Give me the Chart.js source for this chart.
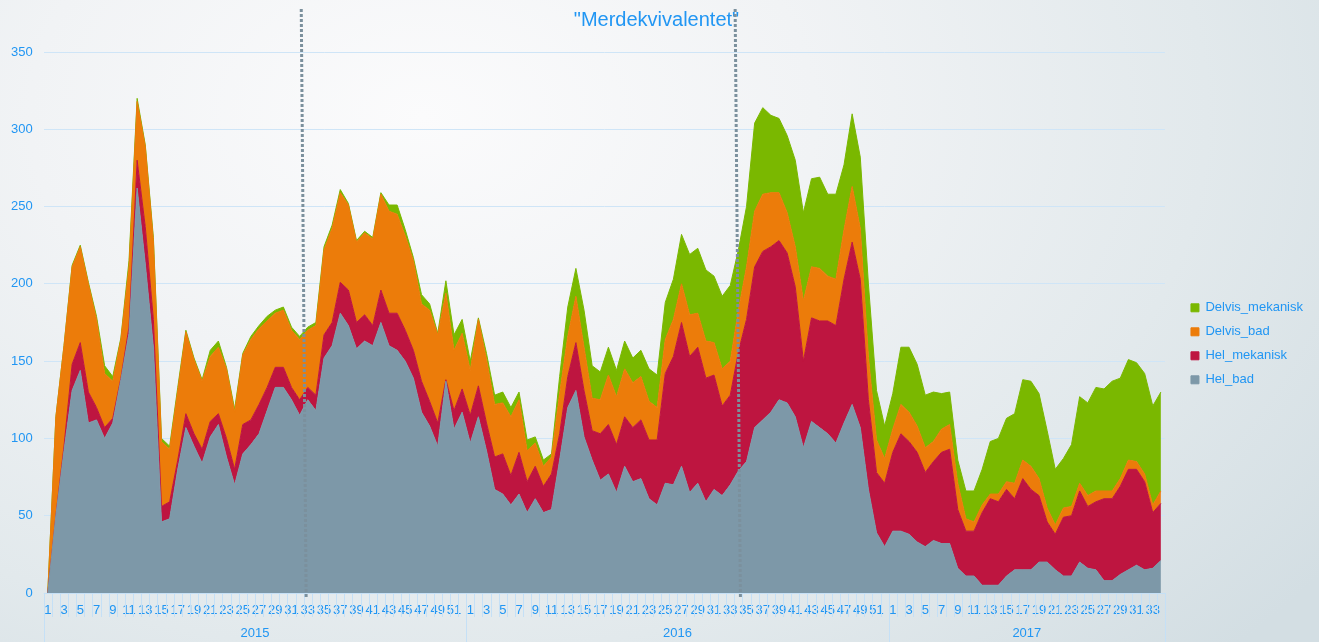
<!DOCTYPE html>
<html><head><meta charset="utf-8">
<script src="https://cdn.jsdelivr.net/npm/chart.js@4.4.0/dist/chart.umd.min.js"></script>
<style>
html,body{margin:0;padding:0;width:1319px;height:642px;overflow:hidden;}
body{background:radial-gradient(ellipse 85% 120% at 32% 18%, #fbfbfc 0%, #f1f3f5 35%, #e2e9ec 70%, #d3dee3 100%);}
#wrap{position:relative;width:1319px;height:642px;}
</style></head><body><div id="wrap"><canvas id="c" width="1319" height="642"></canvas></div>
<script>
const years = ['2015', '2016', '2017'];
const weeksPerYear = [52, 52, 34];
const seriesNames = ['Hel_bad', 'Hel_mekanisk', 'Delvis_bad', 'Delvis_mekanisk'];

const helBad = [
  0, 50, 92, 131, 144, 110, 112, 100, 110, 138,
  168, 262, 213, 159, 46, 48, 80, 107, 95, 84,
  101, 109, 88, 70, 90, 96, 103, 118, 133, 133,
  125, 115, 125, 118, 152, 160, 181, 173, 158, 163,
  160, 175, 160, 157, 150, 139, 117, 108, 95, 137,
  106, 117,
  97, 114, 92, 67, 64, 57, 64, 52, 61, 52,
  54, 86, 120, 131, 101, 86, 73, 77, 65, 82,
  72, 74, 61, 57, 71, 70, 82, 65, 71, 59,
  67, 63, 70, 79, 85, 107, 112, 117, 125, 123,
  114, 94, 111, 107, 103, 97, 110, 122, 107, 67,
  39, 30,
  40, 40, 38, 33, 30, 34, 32, 32, 16, 11,
  11, 5, 5, 5, 11, 15, 15, 15, 20, 20,
  15, 11, 11, 20, 16, 15, 8, 8, 12, 15,
  18, 15, 16, 21
];
const helMekanisk = [
  0, 0, 3, 17, 18, 20, 8, 7, 3, 1,
  4, 18, 24, 18, 10, 11, 6, 9, 8, 9,
  10, 7, 12, 10, 19, 16, 19, 15, 13, 13,
  8, 10, 8, 10, 15, 15, 20, 23, 17, 17,
  13, 21, 21, 24, 20, 18, 20, 16, 15, 1,
  12, 15,
  18, 20, 18, 21, 26, 19, 27, 20, 21, 17,
  23, 17, 20, 31, 30, 19, 30, 32, 31, 32,
  35, 38, 38, 42, 71, 83, 93, 88, 88, 80,
  74, 58, 58, 77, 92, 104, 109, 107, 103, 97,
  84, 56, 67, 69, 73, 76, 93, 105, 96, 58,
  39, 41,
  51, 63, 60, 58, 48, 51, 59, 61, 38, 29,
  29, 47, 56, 54, 56, 46, 59, 52, 43, 26,
  23, 38, 39, 46, 40, 44, 53, 53, 57, 65,
  62, 57, 36, 37
];
const delvisBad = [
  0, 64, 65, 63, 62, 70, 57, 35, 24, 25,
  39, 38, 52, 51, 42, 34, 45, 53, 48, 44,
  42, 43, 45, 37, 45, 52, 49, 43, 35, 37,
  37, 39, 37, 45, 55, 61, 58, 55, 52, 53,
  56, 62, 66, 64, 61, 58, 50, 59, 57, 56,
  39, 36,
  29, 43, 41, 34, 33, 38, 34, 20, 15, 13,
  11, 26, 26, 30, 28, 21, 22, 32, 31, 31,
  29, 28, 25, 21, 22, 24, 25, 27, 22, 24,
  21, 24, 22, 27, 34, 36, 37, 35, 31, 26,
  26, 39, 33, 34, 29, 30, 32, 36, 33, 28,
  21, 16,
  15, 19, 19, 17, 16, 13, 15, 16, 17, 8,
  6, 5, 3, 5, 5, 10, 12, 15, 11, 9,
  6, 6, 6, 5, 7, 7, 5, 5, 5, 6,
  5, 5, 5, 8
];
const delvisMekanisk = [
  0, 0, 0, 1, 1, 1, 2, 5, 3, 1,
  4, 2, 1, 2, 2, 2, 2, 1, 1, 1,
  4, 4, 1, 2, 1, 2, 2, 3, 2, 2,
  2, 2, 2, 2, 2, 2, 2, 1, 1, 1,
  1, 1, 4, 6, 4, 2, 6, 4, 1, 8,
  10, 9,
  6, 1, 4, 6, 7, 6, 5, 7, 4, 4,
  2, 11, 19, 18, 24, 21, 18, 18, 17, 18,
  16, 17, 21, 21, 24, 26, 32, 39, 42, 46,
  43, 47, 49, 39, 39, 57, 56, 50, 48, 50,
  56, 57, 57, 59, 53, 55, 42, 47, 46, 47,
  32, 21,
  23, 37, 42, 40, 34, 32, 23, 21, 15, 18,
  20, 23, 34, 36, 41, 45, 52, 55, 55, 50,
  36, 32, 40, 56, 60, 67, 66, 71, 65, 65,
  64, 65, 64, 64
];

// week number labels for each year
const labels = [];
weeksPerYear.forEach(n => { for (let w = 1; w <= n; w++) labels.push(String(w)); });

const BLUE = '#2196f3';
const FONT = '"Liberation Sans", Arial, sans-serif';
const colors = ['#7d98a8', '#be1540', '#ec7c0a', '#7ab800'];
const seriesData = [helBad, helMekanisk, delvisBad, delvisMekanisk];

const decor = {
  id: 'decor',
  afterDatasetsDraw(chart) {
    const ctx = chart.ctx;
    const { left, right, top, bottom } = chart.chartArea;
    const n = labels.length;
    const step = (right - left) / n;
    ctx.save();
    ctx.strokeStyle = '#c5e0f6';
    ctx.lineWidth = 1;
    ctx.beginPath(); ctx.moveTo(left, bottom + 0.5); ctx.lineTo(right, bottom + 0.5); ctx.stroke();
    for (let i = 0; i <= n; i++) {
      const xx = Math.round(left + i * step) + 0.5;
      ctx.beginPath(); ctx.moveTo(xx, bottom); ctx.lineTo(xx, bottom + 24); ctx.stroke();
    }
    const bounds = [0]; let c = 0;
    weeksPerYear.forEach(w => { c += w; bounds.push(c); });
    bounds.forEach(b => {
      const xx = Math.round(left + b * step) + 0.5;
      ctx.beginPath(); ctx.moveTo(xx, bottom); ctx.lineTo(xx, chart.height); ctx.stroke();
    });
    ctx.fillStyle = BLUE;
    ctx.font = '13px ' + FONT;
    ctx.textAlign = 'center';
    ctx.textBaseline = 'middle';
    years.forEach((yr, k) => {
      const xm = left + (bounds[k] + bounds[k + 1]) / 2 * step;
      ctx.fillText(yr, xm, bottom + 40.5);
    });
    const spans = chart.options.plugins.decor.markers;
    ctx.strokeStyle = '#7b909d';
    ctx.lineWidth = 3;
    ctx.setLineDash([3, 2]);
    spans.forEach(([a, b]) => {
      const x1 = left + (a + 0.5) * step, x2 = left + (b + 0.5) * step;
      ctx.beginPath(); ctx.moveTo(x1, 9); ctx.lineTo(x2, bottom + 4); ctx.stroke();
    });
    ctx.restore();
  }
};

new Chart(document.getElementById('c'), {
  type: 'line',
  data: {
    labels: labels,
    datasets: seriesNames.map((name, k) => ({
      label: name,
      data: seriesData[k],
      backgroundColor: colors[k],
      borderColor: colors[k],
      borderWidth: 1,
      pointRadius: 0,
      tension: 0,
      fill: k === 0 ? 'origin' : '-1'
    }))
  },
  options: {
    responsive: false,
    animation: false,
    devicePixelRatio: 1,
    layout: { padding: { left: 0, right: 6, top: 0, bottom: 0 } },
    scales: {
      x: {
        offset: true,
        grid: { display: false, drawTicks: false },
        border: { display: false },
        ticks: {
          autoSkip: false, maxRotation: 0, minRotation: 0, padding: 10,
          color: BLUE, font: { size: 13, family: FONT },
          callback: function (v, i) { return i % 2 === 0 ? this.getLabelForValue(v) : ''; }
        },
        afterFit(s) { s.height = 49; }
      },
      y: {
        stacked: true,
        min: 0, max: 350,
        grid: { color: '#cfe5f7', drawTicks: false },
        border: { display: false },
        ticks: { stepSize: 50, padding: 11, color: BLUE, font: { size: 13, family: FONT } }
      },
      yPad: {
        position: 'right', display: true,
        grid: { display: false, drawTicks: false },
        border: { display: false },
        ticks: { display: false },
        afterFit(s) { s.width = 15; }
      }
    },
    plugins: {
      decor: { markers: [[31.2, 31.8], [84.6, 85.25]] },
      title: {
        display: true, text: '"Merdekvivalentet"', color: BLUE,
        font: { size: 20, weight: 'normal', family: FONT },
        padding: { top: 8, bottom: 20 }
      },
      legend: {
        position: 'right', reverse: true,
        title: { display: true, text: ' ', font: { size: 13, family: FONT }, padding: { top: 0, bottom: 30 } },
        labels: { boxWidth: 8, boxHeight: 8, padding: 11, color: BLUE, font: { size: 13, family: FONT } }
      },
      tooltip: { enabled: false }
    }
  },
  plugins: [decor]
});
</script>
</body></html>
